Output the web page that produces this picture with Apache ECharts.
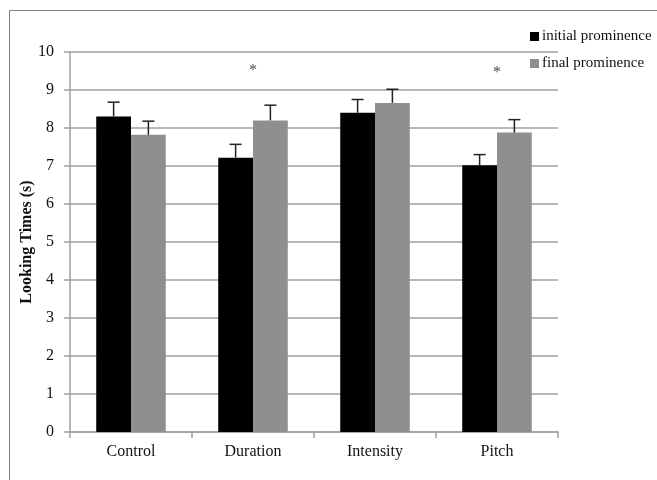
<!DOCTYPE html>
<html><head><meta charset="utf-8">
<script src="https://cdn.jsdelivr.net/npm/echarts@6/dist/echarts.min.js"></script>
<style>html,body{margin:0;padding:0;background:#fff}#c{width:657px;height:480px}</style>
</head><body><div id="c"></div>
<script>
const categories = ['Control', 'Duration', 'Intensity', 'Pitch'];
const initialMeans = [8.3, 7.22, 8.4, 7.02];
const initialErr = [0.38, 0.35, 0.35, 0.28];
const finalMeans = [7.82, 8.2, 8.66, 7.88];
const finalErr = [0.36, 0.4, 0.36, 0.34];
const starCats = ['Duration', 'Pitch'];
const starLevel = [9.5, 9.45];
const yTicks = {min: 0, max: 10, interval: 1};

const FONT = 'Liberation Serif';
const CAT_GAP = 0.43;

function errSeries(means, errs, side) {
  return {
    type: 'custom',
    silent: true,
    z: 5,
    data: means.map((m, i) => [i, m, m + errs[i]]),
    renderItem: function (params, api) {
      const i = api.value(0);
      const base = api.coord([i, api.value(1)]);
      const top = api.coord([i, api.value(2)]);
      const cw = api.size([1, 0])[0];
      const bw = cw * (1 - CAT_GAP) / 2;
      const x = base[0] + side * bw / 2;
      const cap = 6;
      const st = {stroke: '#222', lineWidth: 1.5};
      return {type: 'group', children: [
        {type: 'line', shape: {x1: x, y1: base[1], x2: x, y2: top[1]}, style: st},
        {type: 'line', shape: {x1: x - cap, y1: top[1], x2: x + cap, y2: top[1]}, style: st}
      ]};
    }
  };
}

const chart = echarts.init(document.getElementById('c'));
chart.setOption({
  animation: false,
  backgroundColor: '#fff',
  textStyle: {fontFamily: FONT},
  graphic: [{type: 'rect', shape: {x: 9.5, y: 10.5, width: 700, height: 520}, style: {fill: 'none', stroke: '#808080', lineWidth: 1}, z: -10}],
  grid: {left: 70, right: 99, top: 52, bottom: 48},
  legend: {
    left: 525, top: 24, orient: 'vertical', itemWidth: 9, itemHeight: 9, itemGap: 12,
    icon: 'rect',
    textStyle: {fontFamily: FONT, fontSize: 15, color: '#111', padding: [0, 0, 0, -2]},
    data: ['initial prominence', 'final prominence']
  },
  xAxis: {
    type: 'category', data: categories,
    axisLine: {lineStyle: {color: '#a0a0a0', width: 1.5}},
    axisTick: {show: true, length: 6, lineStyle: {color: '#a0a0a0', width: 1.5}},
    axisLabel: {fontFamily: FONT, fontSize: 16, color: '#111', margin: 12}
  },
  yAxis: {
    type: 'value', min: yTicks.min, max: yTicks.max, interval: yTicks.interval,
    name: 'Looking Times (s)', nameLocation: 'middle', nameGap: 35, nameMoveOverlap: false,
    nameTextStyle: {fontFamily: FONT, fontSize: 16, fontWeight: 'bold', color: '#111'},
    axisLine: {show: true, lineStyle: {color: '#a0a0a0', width: 1.5}},
    axisTick: {show: true, length: 6, lineStyle: {color: '#a0a0a0', width: 1.5}},
    splitLine: {lineStyle: {color: '#a0a0a0', width: 1.5}},
    axisLabel: {fontFamily: FONT, fontSize: 16, color: '#111', margin: 16}
  },
  series: [
    {name: 'initial prominence', type: 'bar', data: initialMeans, barGap: '0%', barCategoryGap: (CAT_GAP * 100) + '%',
     itemStyle: {color: '#000'}},
    {name: 'final prominence', type: 'bar', data: finalMeans, barGap: '0%', barCategoryGap: (CAT_GAP * 100) + '%',
     itemStyle: {color: '#8f8f8f'}},
    errSeries(initialMeans, initialErr, -1),
    errSeries(finalMeans, finalErr, 1),
    {type: 'scatter', symbolSize: 0, silent: true,
     data: starCats.map((c, i) => [c, starLevel[i]]),
     label: {show: true, position: 'inside', formatter: '*', fontFamily: FONT, fontSize: 16, color: '#222'}}
  ]
});
</script></body></html>
